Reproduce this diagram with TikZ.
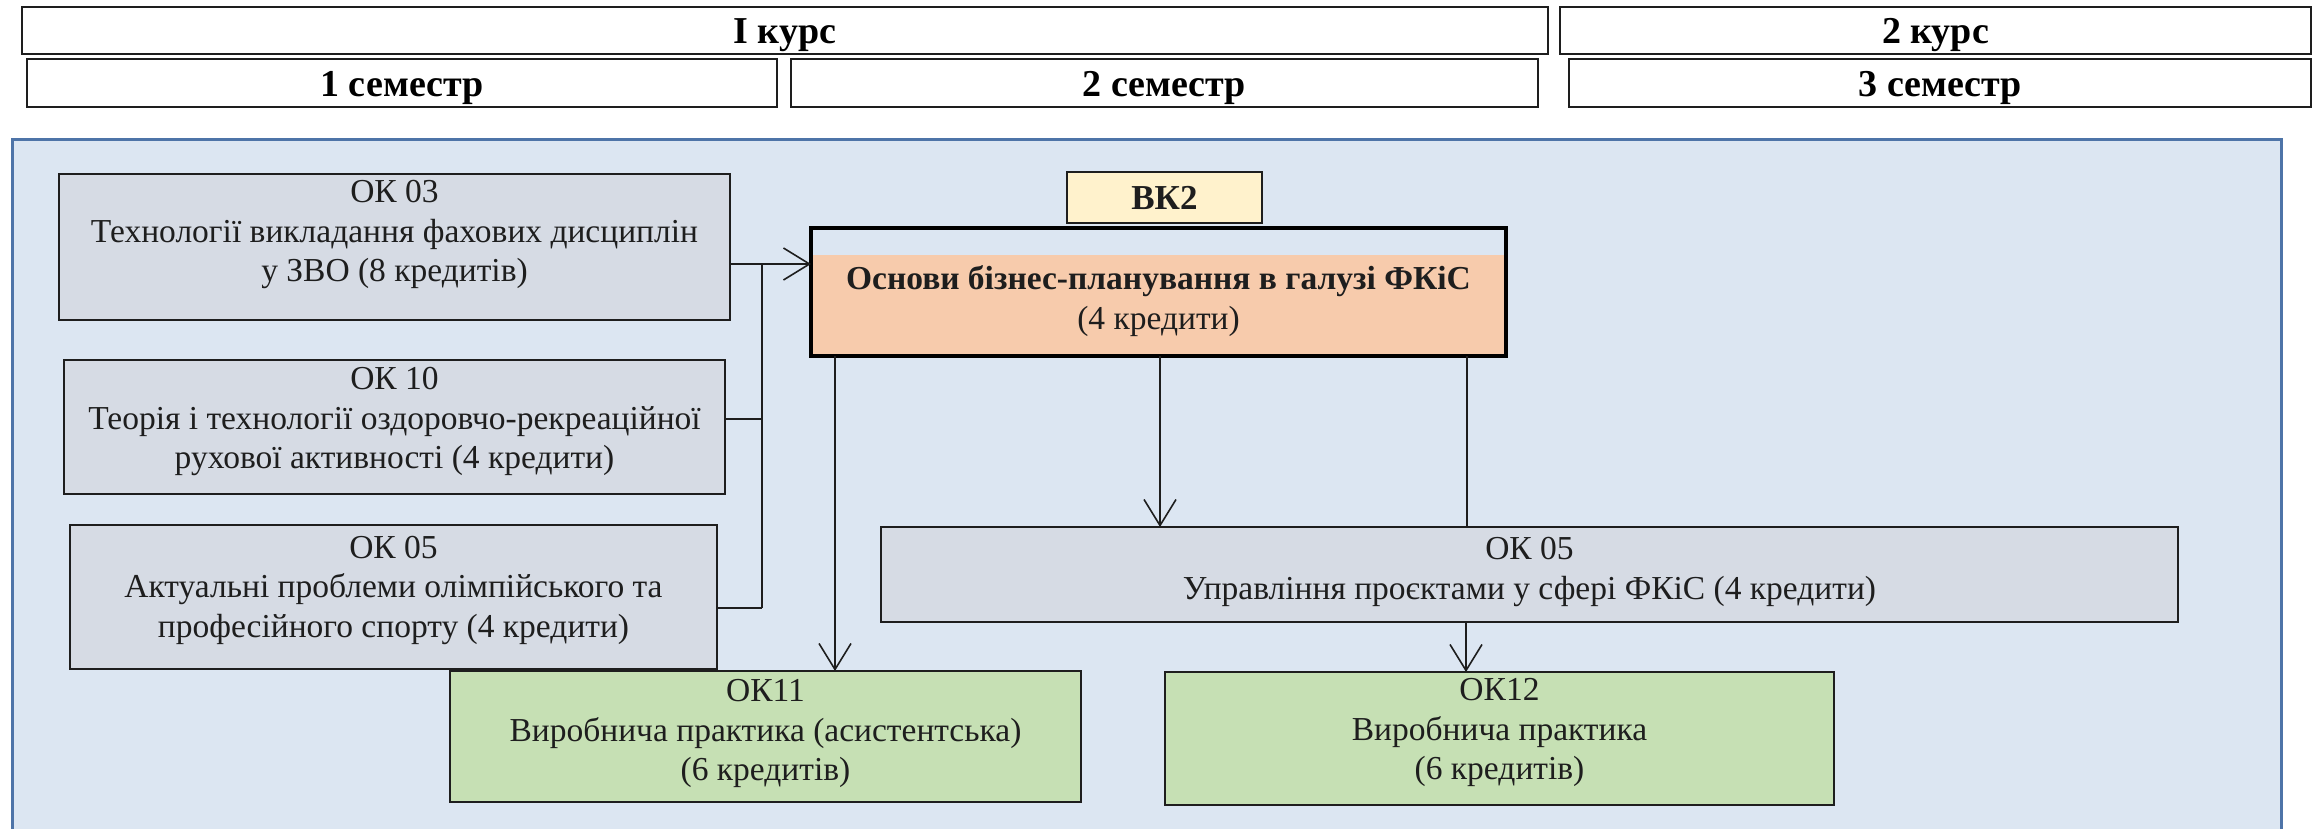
\documentclass[tikz,border=0pt]{standalone}
\usepackage{fontspec}
\setmainfont{Liberation Serif}
\usetikzlibrary{arrows.meta,calc}
\definecolor{bgblue}{HTML}{DCE6F2}
\definecolor{frameblue}{HTML}{4E74A8}
\definecolor{grayfill}{HTML}{D6DBE4}
\definecolor{orangefill}{HTML}{F7CBAC}
\definecolor{yellowfill}{HTML}{FFF2CC}
\definecolor{greenfill}{HTML}{C6E0B4}
\definecolor{ink}{HTML}{1E1E1E}
\tikzset{
  hdr/.style={draw=ink, line width=2.5pt, fill=white, anchor=north west, inner sep=0pt, outer sep=0pt,
    font=\bfseries\fontsize{38}{44}\selectfont, text height=33pt, text depth=7pt},
  boxx/.style={draw=ink, line width=2.4pt, anchor=north west, inner sep=0pt, outer sep=0pt},
  txt/.style={align=center, inner sep=0pt, text=ink, font=\fontsize{33.5}{39.5}\selectfont},
  ln/.style={draw=ink, line width=1.6pt},
  arr/.style={ln, -{Straight Barb[length=26pt, width=32pt, line width=1.6pt]}}
}
\begin{document}
\begin{tikzpicture}[x=1pt, y=-1pt]
\useasboundingbox (0,0) rectangle (2321,828);
% header
\node[hdr, minimum width=1526, minimum height=47] (k1) at (22,7) {I курс};
\node[hdr, minimum width=751, minimum height=47] (k2) at (1560,7) {2 курс};
\node[hdr, minimum width=750, minimum height=48] (s1) at (27,59) {1 семестр};
\node[hdr, minimum width=747, minimum height=48] (s2) at (791,59) {2 семестр};
\node[hdr, minimum width=742, minimum height=48] (s3) at (1569,59) {3 семестр};
% area
\node[draw=frameblue, line width=3pt, fill=bgblue, anchor=north west, inner sep=0pt, outer sep=0pt,
  minimum width=2269, minimum height=692] (area) at (12,139) {};
% left boxes
\node[boxx, fill=grayfill, minimum width=671, minimum height=146] (b03) at (59,174) {};
\node[txt] (t03) at (394.5,234.5) {ОК 03\\Технології викладання фахових дисциплін\\у ЗВО (8 кредитів)};
\node[boxx, fill=grayfill, minimum width=661, minimum height=134] (b10) at (64,360) {};
\node[txt] (t10) at (394.5,421.5) {ОК 10\\Теорія і технології оздоровчо-рекреаційної\\рухової активності (4 кредити)};
\node[boxx, fill=grayfill, minimum width=647, minimum height=144] (b05a) at (70,525) {};
\node[txt] (t05a) at (393.5,590) {ОК 05\\Актуальні проблеми олімпійського та\\професійного спорту (4 кредити)};
% VK2
\node[boxx, fill=yellowfill, line width=2pt, minimum width=195, minimum height=51,
  font=\bfseries\fontsize{35}{40}\selectfont, text=ink] (vk) at (1067,172) {ВК2};
\fill[orangefill] (811,255) rectangle (1506,356);
\node[boxx, line width=4pt, draw=black, minimum width=695, minimum height=128] (main) at (811,228) {};
\node[txt] (tmain) at (1158.5,301) {\textbf{Основи бізнес-планування в галузі ФКіС}\\(4 кредити)};
% right OK 05
\node[boxx, fill=grayfill, minimum width=1297, minimum height=95] (b05b) at (881,527) {};
\node[txt] (t05b) at (1529.5,572) {ОК 05\\Управління проєктами у сфері ФКіС (4 кредити)};
% green boxes
\node[boxx, fill=greenfill, minimum width=631, minimum height=131] (ok11) at (450,671) {};
\node[txt] (t11) at (765.5,733.5) {ОК11\\Виробнича практика (асистентська)\\(6 кредитів)};
\node[boxx, fill=greenfill, minimum width=669, minimum height=133] (ok12) at (1165,672) {};
\node[txt] (t12) at (1499.5,732.5) {ОК12\\Виробнича практика\\(6 кредитів)};
% connectors
\coordinate (jtop) at (762,264);
\coordinate (jbot) at (762,608);
\draw[arr] ([yshift=-90pt]b03.north east) -- ([yshift=-36pt]main.north west);
\draw[ln] (jtop) -- (jbot);
\draw[ln] ([yshift=-59pt]b10.north east) -- ++(37,0);
\draw[ln] ([yshift=-83pt]b05a.north east) -- (jbot);
\draw[arr] ([xshift=24pt]main.south west) -- ([xshift=24pt]main.south west |- ok11.north);
\draw[arr] ([xshift=349pt]main.south west) -- ([xshift=349pt]main.south west |- b05b.north);
\draw[ln] ([xshift=656pt]main.south west) -- ([xshift=656pt]main.south west |- b05b.north);
\draw[arr] ([xshift=585pt]b05b.south west) -- ([xshift=585pt]b05b.south west |- ok12.north);
\end{tikzpicture}
\end{document}
